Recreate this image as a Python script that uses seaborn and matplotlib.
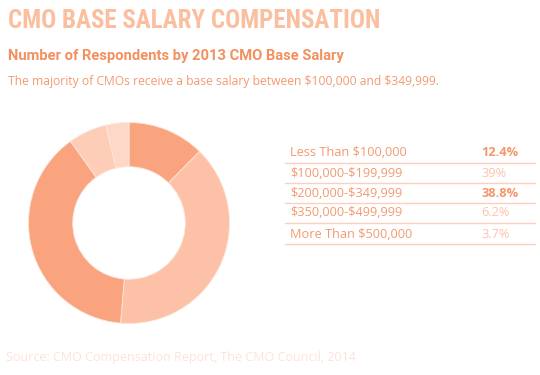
import matplotlib
matplotlib.use("Agg")
import matplotlib.pyplot as plt
import seaborn as sns

sns.set_theme(style="white")
plt.rcParams['font.family'] = ['Open Sans', 'DejaVu Sans']
plt.rcParams['text.parse_math'] = False

# salary bands and share of respondents (%)
categories = ["Less Than $100,000", "$100,000-$199,999", "$200,000-$349,999",
              "$350,000-$499,999", "More Than $500,000"]
shares = [12.4, 39, 38.8, 6.2, 3.7]
share_labels = ["12.4%", "39%", "38.8%", "6.2%", "3.7%"]
bold_rows = [True, False, True, False, False]

wedge_colors = ["#f9a47e", "#fcc1a7", "#f9a47e", "#fdcdb8", "#fdd8c8"]
pct_colors = ["#f5956a", "#fbc4ac", "#f5956a", "#fbc4ac", "#fbc4ac"]

W, H = 540, 375
fig = plt.figure(figsize=(W / 100, H / 100), dpi=100)
fig.patch.set_facecolor("white")

def fx(px):
    return px / W

def fy(py):
    return 1 - py / H

# headings
fig.text(fx(8), fy(21), "CMO BASE SALARY COMPENSATION", fontsize=18, fontweight="bold",
         color="#fbbf9f", va="center", ha="left", family=["Roboto Condensed", "Roboto", "DejaVu Sans"])
fig.text(fx(8), fy(56), "Number of Respondents by 2013 CMO Base Salary", fontsize=10.6,
         fontweight="bold", color="#f3905f", va="center", ha="left", family=["Roboto", "DejaVu Sans"])
fig.text(fx(8), fy(82), "The majority of CMOs receive a base salary between $100,000 and $349,999.",
         fontsize=8.7, color="#f39a72", va="center", ha="left")
fig.text(fx(6), fy(358), "Source: CMO Compensation Report, The CMO Council, 2014",
         fontsize=9, color="#fde3d8", va="center", ha="left")

# donut
ax = fig.add_axes([fx(28), fy(324), 202 / W, 202 / H])
ax.pie(shares, colors=wedge_colors, startangle=90, counterclock=False,
       wedgeprops=dict(width=0.44, edgecolor="#fde6dc", linewidth=0.6))
ax.set_xlim(-1.005, 1.005)
ax.set_ylim(-1.005, 1.005)
ax.set_aspect("equal")
ax.axis("off")

# table on the right
row_y = [153, 173, 193, 213, 234]
for i, cat in enumerate(categories):
    y = row_y[i]
    fig.text(fx(290), fy(y), cat, fontsize=9.2, color="#f39a72", va="center", ha="left")
    fig.text(fx(481), fy(y), share_labels[i], fontsize=9.2, color=pct_colors[i],
             fontweight="bold" if bold_rows[i] else "normal", va="center", ha="left")
    line_y = fy(y + 10)
    fig.add_artist(plt.Line2D([fx(285), fx(535)], [line_y, line_y], color="#fcd0bd",
                              linewidth=1.0, transform=fig.transFigure))

fig.savefig("out.png", dpi=100, facecolor="white")
